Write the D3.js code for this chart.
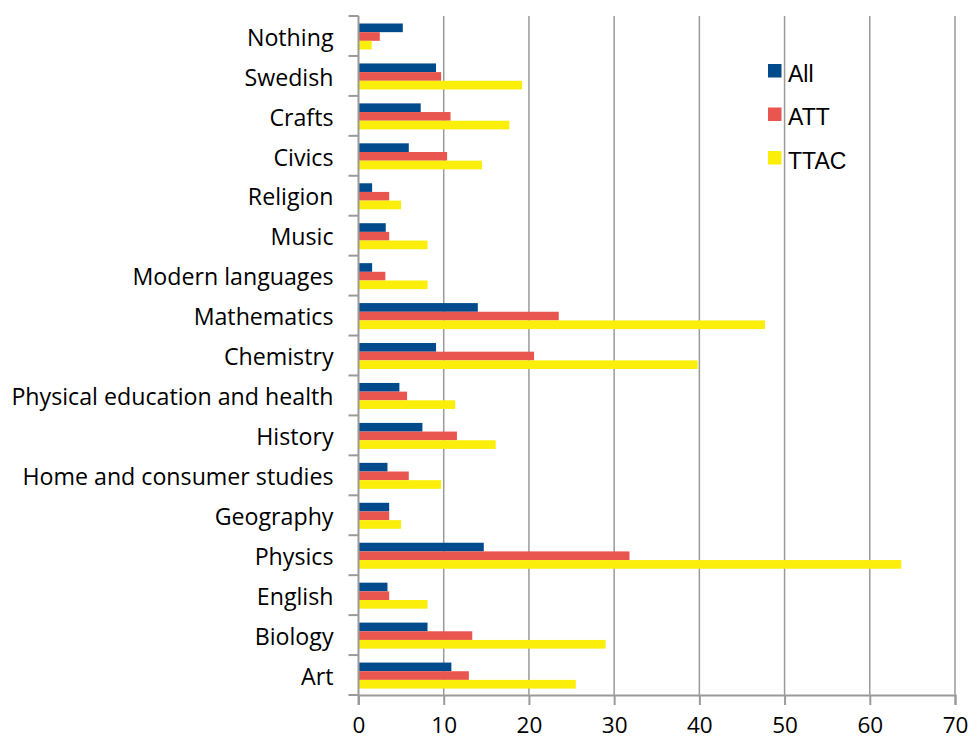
<!DOCTYPE html>
<html>
<head>
<meta charset="utf-8">
<script src="https://cdn.jsdelivr.net/npm/d3@7"></script>
<style>
  body { margin: 0; background: #fff; }
  svg { display: block; }
</style>
</head>
<body>
<svg width="972" height="742"></svg>
<script>
// chart data
const subjects = ["Nothing", "Swedish", "Crafts", "Civics", "Religion", "Music",
    "Modern languages", "Mathematics", "Chemistry", "Physical education and health",
    "History", "Home and consumer studies", "Geography", "Physics", "English", "Biology", "Art"];
const seriesNames = ["All", "ATT", "TTAC"];
const allValues  = [5.2, 9.1, 7.3, 5.9, 1.6, 3.2, 1.6, 14.0, 9.1, 4.8, 7.5, 3.4, 3.6, 14.7, 3.4, 8.1, 10.9];
const attValues  = [2.5, 9.7, 10.8, 10.4, 3.6, 3.6, 3.15, 23.5, 20.6, 5.7, 11.55, 5.9, 3.6, 31.8, 3.6, 13.35, 12.95];
const ttacValues = [1.55, 19.2, 17.7, 14.5, 5.0, 8.1, 8.1, 47.7, 39.8, 11.35, 16.1, 9.7, 5.0, 63.7, 8.1, 29.0, 25.5];
const xTicks = [0, 10, 20, 30, 40, 50, 60, 70];
const colors = ["#014b8c", "#e9554f", "#fbee0b"];

const svg = d3.select("svg");
const margin = { left: 358.5, right: 17, top: 16, bottom: 47 };
const width = 972, height = 742;

const x = d3.scaleLinear()
    .domain([0, 70])
    .range([margin.left, width - margin.right]);

const y = d3.scaleBand()
    .domain(subjects)
    .range([margin.top, height - margin.bottom])
    .padding(0);

const inner = d3.scaleBand()
    .domain(seriesNames)
    .range([7.5, 33.5]);

const table = subjects.map((s, i) => ({
    subject: s,
    values: [allValues[i], attValues[i], ttacValues[i]]
}));

// vertical grid lines
svg.append("g")
    .selectAll("line")
    .data(xTicks.slice(1))
    .enter()
    .append("line")
    .attr("x1", d => x(d))
    .attr("x2", d => x(d))
    .attr("y1", margin.top)
    .attr("y2", height - margin.bottom)
    .attr("stroke", "#9a9a9a")
    .attr("stroke-width", 1.5);

// bars
const groups = svg.append("g")
    .selectAll("g")
    .data(table)
    .enter()
    .append("g")
    .attr("transform", d => `translate(0,${y(d.subject)})`);

groups.selectAll("rect")
    .data(d => d.values.map((v, k) => ({ name: seriesNames[k], value: v, k: k })))
    .enter()
    .append("rect")
    .attr("x", x(0))
    .attr("y", d => inner(d.name))
    .attr("width", d => x(d.value) - x(0))
    .attr("height", inner.bandwidth())
    .attr("fill", d => colors[d.k]);

// x axis
const xAxis = svg.append("g")
    .attr("transform", `translate(0,${height - margin.bottom})`)
    .call(d3.axisBottom(x).tickValues(xTicks).tickSize(10).tickPadding(12));
xAxis.select(".domain").attr("stroke", "#9a9a9a").attr("stroke-width", 2);
xAxis.selectAll(".tick line").attr("stroke", "#9a9a9a").attr("stroke-width", 2);
xAxis.selectAll("text")
    .attr("font-family", "Open Sans")
    .attr("font-size", 22.5)
    .attr("fill", "#000");

// y axis: labels at band centres, ticks at band edges
const yAxis = svg.append("g")
    .attr("transform", `translate(${x(0)},0)`)
    .call(d3.axisLeft(y).tickSize(0).tickPadding(25));
yAxis.select(".domain").remove();
yAxis.selectAll("text")
    .attr("font-family", "Open Sans")
    .attr("font-size", 23.2)
    .attr("dy", "0.42em")
    .attr("fill", "#000");

const edges = subjects.map(s => y(s)).concat([y.range()[1]]);
svg.append("g")
    .selectAll("line")
    .data(edges)
    .enter()
    .append("line")
    .attr("x1", x(0) - 10)
    .attr("x2", x(0))
    .attr("y1", d => d)
    .attr("y2", d => d)
    .attr("stroke", "#9a9a9a")
    .attr("stroke-width", 2);

svg.append("line")
    .attr("x1", x(0))
    .attr("x2", x(0))
    .attr("y1", margin.top)
    .attr("y2", height - margin.bottom + 10)
    .attr("stroke", "#9a9a9a")
    .attr("stroke-width", 2);

// legend
const legend = svg.append("g")
    .attr("transform", "translate(768,64)");
const items = legend.selectAll("g")
    .data(seriesNames)
    .enter()
    .append("g")
    .attr("transform", (d, i) => `translate(0,${i * 43.5})`);
items.append("rect")
    .attr("width", 13.5)
    .attr("height", 13.5)
    .attr("fill", (d, i) => colors[i]);
items.append("text")
    .attr("x", 20)
    .attr("y", 17.5)
    .attr("font-family", "Liberation Sans")
    .attr("font-size", 23)
    .attr("fill", "#000")
    .text(d => d);
</script>
</body>
</html>
